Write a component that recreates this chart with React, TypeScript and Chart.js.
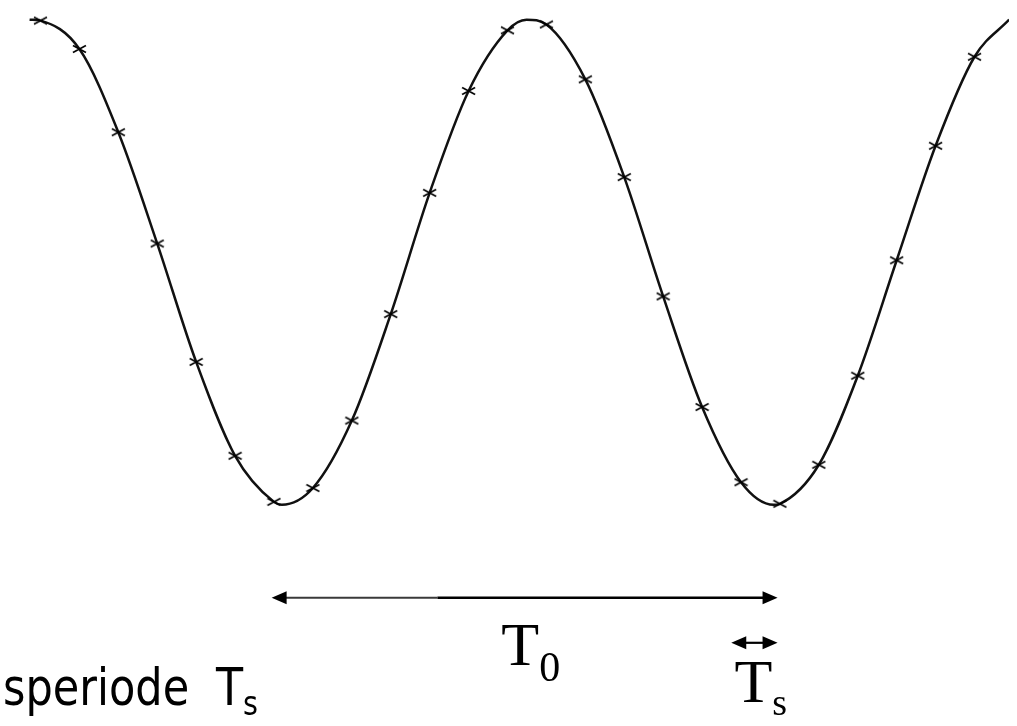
import React, { useEffect, useRef } from "react";
import { Chart, registerables } from "chart.js";

Chart.register(...registerables);

// sample index n (time in units of Ts) and sampled values
const sampleIndex = [0, 1, 2, 3, 4, 5, 6, 7, 8, 9, 10, 11, 12, 13, 14, 15, 16, 17, 18, 19, 20, 21, 22, 23, 24];
const sampleValues = [
  0.996, 0.879, 0.536, 0.077, -0.411, -0.798, -0.988, -0.931, -0.653, -0.214, 0.286, 0.706, 0.956,
  0.98, 0.754, 0.351, -0.141, -0.597, -0.907, -0.996, -0.835, -0.468, 0.008, 0.48, 0.847,
];
// extra points of the continuous signal (start, extrema, end)
const curveExtraT = [-0.28, 6.2, 12.49, 18.84, 24.89];
const curveExtraV = [1.0, -1.0, 1.0, -1.0, 1.0];

// annotation values (time units / signal units)
const periodArrow = [5.94, 18.94];
const sampleArrow = [17.75, 18.94];
const captionMain = "speriode T";
const captionSub = "s";
const periodLabel = ["T", "0"];
const sampleLabel = ["T", "s"];

function makeMarker(): HTMLCanvasElement {
  const c = document.createElement("canvas");
  c.width = 15;
  c.height = 10;
  const g = c.getContext("2d")!;
  g.strokeStyle = "#000";
  g.lineWidth = 1.6;
  g.beginPath();
  g.moveTo(1, 1.5);
  g.lineTo(14, 8.5);
  g.moveTo(1, 8.5);
  g.lineTo(14, 1.5);
  g.stroke();
  return c;
}

function drawArrow(ctx: CanvasRenderingContext2D, x1: number, x2: number, y: number, head: number, half: number) {
  ctx.beginPath();
  ctx.moveTo(x1, y);
  ctx.lineTo(x1 + head, y - half);
  ctx.lineTo(x1 + head, y + half);
  ctx.closePath();
  ctx.fill();
  ctx.beginPath();
  ctx.moveTo(x2, y);
  ctx.lineTo(x2 - head, y - half);
  ctx.lineTo(x2 - head, y + half);
  ctx.closePath();
  ctx.fill();
}

const annotations = {
  id: "annotations",
  afterDraw(chart: any) {
    const { ctx, scales } = chart;
    const X = (v: number) => scales.x.getPixelForValue(v);
    const Y = (v: number) => scales.y.getPixelForValue(v);
    ctx.save();
    ctx.fillStyle = "#000";
    ctx.strokeStyle = "#000";

    // period arrow
    const a1 = X(periodArrow[0]);
    const a2 = X(periodArrow[1]);
    const ay = Y(-1.383);
    const mid = X(10.2);
    ctx.lineWidth = 2;
    ctx.strokeStyle = "#3a3a3a";
    ctx.beginPath();
    ctx.moveTo(a1 + 10, ay);
    ctx.lineTo(mid, ay);
    ctx.stroke();
    ctx.lineWidth = 2.6;
    ctx.strokeStyle = "#000";
    ctx.beginPath();
    ctx.moveTo(mid, ay);
    ctx.lineTo(a2 - 10, ay);
    ctx.stroke();
    drawArrow(ctx, a1, a2, ay, 15, 6.5);

    // sample period arrow
    const b1 = X(sampleArrow[0]);
    const b2 = X(sampleArrow[1]);
    const by = Y(-1.569);
    ctx.lineWidth = 2.2;
    ctx.beginPath();
    ctx.moveTo(b1 + 8, by);
    ctx.lineTo(b2 - 8, by);
    ctx.stroke();
    drawArrow(ctx, b1, b2, by, 15, 6.5);

    // T0 label
    ctx.textBaseline = "alphabetic";
    ctx.textAlign = "left";
    const tx = X(11.84);
    ctx.font = "62px 'Liberation Serif', 'Times New Roman', serif";
    ctx.fillText(periodLabel[0], tx, Y(-1.661));
    const tw = ctx.measureText(periodLabel[0]).width;
    ctx.font = "42px 'Liberation Serif', 'Times New Roman', serif";
    ctx.fillText(periodLabel[1], tx + tw, Y(-1.726));

    // Ts label under small arrow
    const sx = X(17.83);
    ctx.font = "62px 'Liberation Serif', 'Times New Roman', serif";
    ctx.fillText(sampleLabel[0], sx, Y(-1.815));
    const sw = ctx.measureText(sampleLabel[0]).width;
    ctx.font = "38px 'Liberation Serif', 'Times New Roman', serif";
    ctx.fillText(sampleLabel[1], sx + sw, Y(-1.867));

    // caption (cut at the left edge)
    const cx = X(-0.835);
    const cy = Y(-1.827);
    ctx.font = "51px 'DejaVu Sans', Verdana, sans-serif";
    const parts = captionMain.split(" ");
    ctx.save();
    ctx.translate(cx - 5, cy);
    ctx.scale(0.845, 1);
    ctx.fillText(parts[0], 0, 0);
    ctx.restore();
    ctx.save();
    ctx.translate(cx + 208, cy);
    ctx.scale(0.87, 1);
    ctx.fillText(parts[1], 0, 0);
    ctx.restore();
    ctx.save();
    ctx.font = "33px 'DejaVu Sans', Verdana, sans-serif";
    ctx.translate(cx + 235, cy + 10);
    ctx.scale(0.87, 1);
    ctx.fillText(captionSub, 0, 0);
    ctx.restore();

    ctx.restore();
  },
};

export default function App() {
  const ref = useRef<HTMLCanvasElement | null>(null);
  useEffect(() => {
    document.body.style.margin = "0";
    const samples = sampleIndex.map((t, i) => ({ x: t, y: sampleValues[i] }));
    const curve = samples
      .concat(curveExtraT.map((t, i) => ({ x: t, y: curveExtraV[i] })))
      .sort((a, b) => a.x - b.x);
    const marker = makeMarker();
    const chart = new Chart(ref.current!, {
      type: "line",
      data: {
        datasets: [
          {
            label: "signal",
            data: curve,
            borderColor: "#111",
            borderWidth: 2.5,
            pointRadius: 0,
            cubicInterpolationMode: "monotone",
            fill: false,
            order: 2,
          },
          {
            label: "samples",
            data: samples,
            showLine: false,
            pointStyle: marker as any,
            pointRadius: 7,
            order: 1,
          },
        ],
      },
      options: {
        responsive: false,
        animation: false,
        events: [],
        layout: { padding: 0 },
        plugins: { legend: { display: false }, tooltip: { enabled: false } },
        scales: {
          x: { type: "linear", min: -0.8346, max: 24.886, display: false },
          y: { type: "linear", min: -1.879, max: 1.048, display: false },
        },
      },
      plugins: [annotations],
    });
    return () => chart.destroy();
  }, []);
  return (
    <div style={{ position: "fixed", left: 0, top: 0, width: 1017, height: 726, background: "#fff" }}>
      <canvas ref={ref} width={1017} height={726} style={{ display: "block" }} />
    </div>
  );
}
